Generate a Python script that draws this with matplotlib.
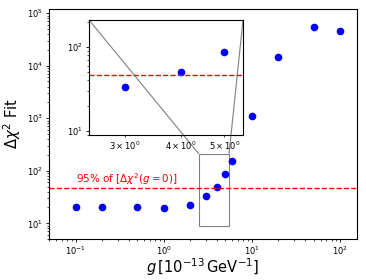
import matplotlib
matplotlib.use("Agg")
import matplotlib.pyplot as plt
from mpl_toolkits.axes_grid1.inset_locator import mark_inset

g = [0.1, 0.2, 0.5, 1, 2, 3, 4, 5, 6, 10, 20, 50, 100]
dchi2 = [20, 20, 20, 19.5, 22.7, 33, 50, 88, 155, 1100, 14500, 54000, 45000]
thresh = 46  # 95% of delta chi2 at g=0

fig = plt.figure(figsize=(3.66, 2.8), dpi=100)
ax = fig.add_axes([0.134, 0.146, 0.841, 0.822])
ax.plot(g, dchi2, 'o', color='blue', ms=4.5)
ax.axhline(thresh, color='red', ls='--', lw=1)
ax.text(0.1, 49, r'95% of $[\Delta\chi^2(g=0)]$', color='red', fontsize=7.5, va='bottom')
ax.set_xscale('log')
ax.set_yscale('log')
ax.set_xlim(0.05, 155)
ax.set_ylim(5, 1.2e5)
ax.tick_params(labelsize=6, length=2.2, width=0.6, pad=2)
ax.tick_params(which='minor', length=1.2, width=0.5)
for s in ax.spines.values():
    s.set_linewidth(0.8)
ax.set_xlabel(r'$g\,[10^{-13}\,\mathrm{GeV}^{-1}]$', fontsize=10.5, labelpad=-1)
ax.set_ylabel(r'$\Delta\chi^2$ Fit', fontsize=10.5, labelpad=3)

# zoom-in
axins = fig.add_axes([0.243, 0.518, 0.421, 0.411])
axins.plot(g, dchi2, 'o', color='blue', ms=4.5)
axins.axhline(thresh, color='red', ls='--', lw=1)
axins.set_xscale('log')
axins.set_yscale('log')
axins.set_xlim(2.5, 5.5)
axins.set_ylim(9, 210)
axins.tick_params(which='both', labelsize=6, pad=2)
axins.tick_params(length=2.2, width=0.6)
axins.tick_params(which='minor', length=1.2, width=0.5)
for s in axins.spines.values():
    s.set_linewidth(0.8)
mark_inset(ax, axins, loc1=2, loc2=1, fc='none', ec='0.5', lw=0.8)

fig.savefig('out.png', dpi=100)
